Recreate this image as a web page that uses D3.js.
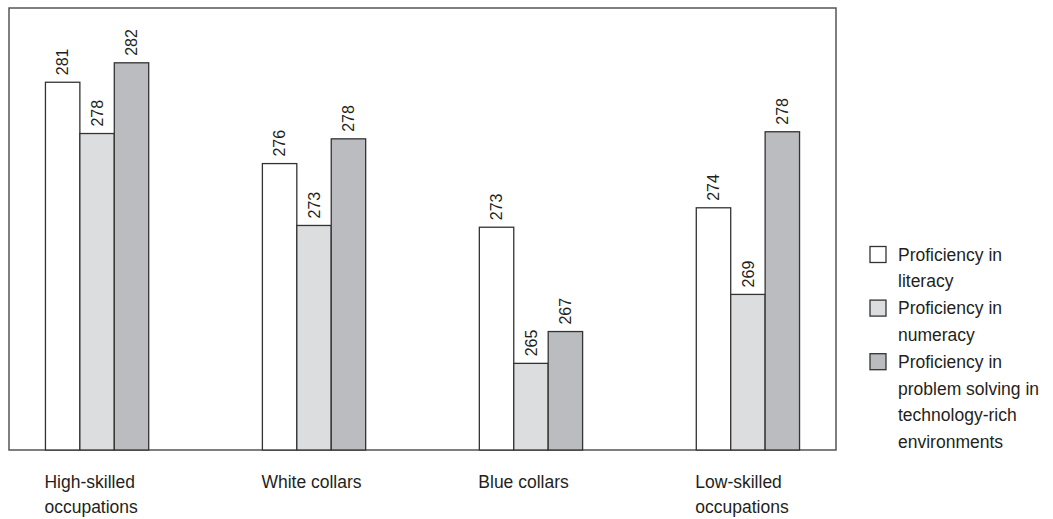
<!DOCTYPE html>
<html>
<head>
<meta charset="utf-8">
<script src="https://cdn.jsdelivr.net/npm/d3@7"></script>
<style>
  body { margin: 0; background: #fff; }
  svg text { font-family: "Liberation Sans", Arial, sans-serif; fill: #231f20; }
</style>
</head>
<body>
<svg width="1053" height="519"></svg>
<script>
// occupations vs proficiency scores

var categories = ["High-skilled occupations", "White collars", "Blue collars", "Low-skilled occupations"];
var categoryLines = [["High-skilled", "occupations"], ["White collars"], ["Blue collars"], ["Low-skilled", "occupations"]];
var seriesNames = ["literacy", "numeracy", "problemSolving"];
var literacy = [280.8, 276.2, 272.6, 273.7];
var numeracy = [277.9, 272.7, 264.9, 268.8];
var problemSolving = [281.9, 277.6, 266.7, 278.0];
var legendLines = [["Proficiency in", "literacy"], ["Proficiency in", "numeracy"], ["Proficiency in", "problem solving in", "technology-rich", "environments"]];
var yDomain = [260, 285];

var colors = ["#ffffff", "#dcdddf", "#bbbcbf"];
var values = [literacy, numeracy, problemSolving];

var svg = d3.select("svg"),
  plotLeft = 9,
  plotTop = 8,
  plotRight = 836,
  plotBottom = 450;

var x0 = d3.scaleBand().domain(categories).range([plotLeft, plotRight]).paddingInner(0.524).paddingOuter(0.168);
var x1 = d3.scaleBand().domain(seriesNames).range([0, x0.bandwidth()]);
var y = d3.scaleLinear().domain(yDomain).range([plotBottom, plotTop]);

var rows = [];
categories.forEach(function (c, i) {
  seriesNames.forEach(function (s, j) {
    rows.push({ cat: c, series: s, value: values[j][i], color: colors[j] });
  });
});

// frame
svg.append("rect")
  .attr("x", plotLeft)
  .attr("y", plotTop)
  .attr("width", plotRight - plotLeft)
  .attr("height", plotBottom - plotTop)
  .attr("fill", "none")
  .attr("stroke", "#555")
  .attr("stroke-width", 1.5);

var g = svg.append("g");

g.selectAll(".bar")
  .data(rows)
  .enter()
  .append("rect")
  .attr("class", "bar")
  .attr("x", function (d) { return x0(d.cat) + x1(d.series); })
  .attr("y", function (d) { return y(d.value); })
  .attr("width", x1.bandwidth())
  .attr("height", function (d) { return plotBottom - y(d.value); })
  .attr("fill", function (d) { return d.color; })
  .attr("stroke", "#333")
  .attr("stroke-width", 1.3);

g.selectAll(".val")
  .data(rows)
  .enter()
  .append("text")
  .attr("class", "val")
  .attr("transform", function (d) {
    var cx = x0(d.cat) + x1(d.series) + x1.bandwidth() / 2;
    return "translate(" + cx + "," + (y(d.value) - 7) + ") rotate(-90)";
  })
  .attr("dy", "0.35em")
  .attr("font-size", 16)
  .text(function (d) { return d3.format(".0f")(d.value); });

// category labels, left aligned under each group
var cl = svg.selectAll(".cat")
  .data(categories)
  .enter()
  .append("text")
  .attr("class", "cat")
  .attr("y", 488)
  .attr("font-size", 17.5);

cl.selectAll("tspan")
  .data(function (d, i) { return categoryLines[i]; })
  .enter()
  .append("tspan")
  .attr("x", function () { return x0(d3.select(this.parentNode).datum()) - 1; })
  .attr("dy", function (d, i) { return i === 0 ? 0 : 25; })
  .text(function (d) { return d; });

// legend
var legend = svg.append("g").attr("transform", "translate(870,0)");
var lineH = 26.8;
var lineStart = 0;
legendLines.forEach(function (lines, i) {
  var base = 260.5 + lineStart * lineH;
  legend.append("rect")
    .attr("x", 0)
    .attr("y", base - 14)
    .attr("width", 16)
    .attr("height", 16)
    .attr("fill", colors[i])
    .attr("stroke", "#333")
    .attr("stroke-width", 1.3);
  var t = legend.append("text")
    .attr("x", 28)
    .attr("y", base)
    .attr("font-size", 17.5);
  t.selectAll("tspan")
    .data(lines)
    .enter()
    .append("tspan")
    .attr("x", 28)
    .attr("dy", function (d, k) { return k === 0 ? 0 : lineH; })
    .text(function (d) { return d; });
  lineStart += lines.length;
});
</script>
</body>
</html>
